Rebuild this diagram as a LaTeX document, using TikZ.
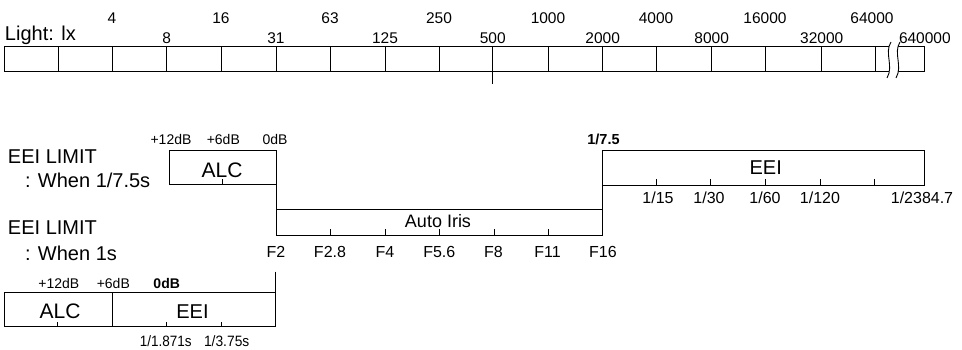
\documentclass[tikz,border=0pt]{standalone}
\usepackage{fontspec}
\usepackage{graphicx}
\setmainfont{Liberation Sans}
\newcommand\myfs[1]{\fontsize{#1}{#1}\selectfont}
\begin{document}
\begin{tikzpicture}[x=1pt,y=-1pt,line width=0.9pt,
  lbl/.style={anchor=base,inner sep=0pt,outer sep=0pt},
  lblw/.style={anchor=base west,inner sep=0pt,outer sep=0pt}]
\useasboundingbox (0,0) rectangle (962,350);
% ---------------- light ruler ----------------
\node[lblw,font=\myfs{20}] (light) at (5,40.7) {Light: lx};
\draw (4,46.5) rectangle (924,71.5);
\foreach \x in {58.7,112.7,166.7,221.7,276,330,385,439,492.7,548.3,602.7,656,711.7,765.7,821.7,875}
  \draw (\x,46.5) -- (\x,71.5);
\draw (492.7,71.5) -- (492.7,84);
\foreach \t/\x in {4/112,16/221,63/330,250/439,1000/548,4000/656,16000/765,64000/872}
  \node[lbl,font=\myfs{15.5}] at (\x,24) {\t};
\foreach \t/\x in {8/166.7,31/276,125/385,500/492.7,2000/602.7,8000/711.7,32000/821.7}
  \node[lbl,font=\myfs{15.5}] at (\x,43.3) {\t};
\node[lblw,font=\myfs{15.5}] at (899,43.3) {640000};
% break marks
\fill[white] (891,42) .. controls (884,53) and (894,66) .. (887,78) -- (896,78) .. controls (903,66) and (893,53) .. (900,42) -- cycle;
\draw (891,42) .. controls (884,53) and (894,66) .. (887,78);
\draw (900,42) .. controls (893,53) and (903,66) .. (896,78);
% ---------------- EEI limit 1/7.5s ----------------
\node[lblw,font=\myfs{20}] at (8,163.3) {EEI LIMIT};
\node[lblw,font=\myfs{20}] at (25,187.7) {: When 1/7.5s};
% ALC box
\draw (169,150.7) rectangle (276,184.3);
\draw (222.7,184.3) -- (222.7,179);
\foreach \t/\x in {+12dB/171,+6dB/223.3,0dB/275}
  \node[lbl,font=\myfs{14}] at (\x,145) {\t};
\node[lbl,font=\myfs{21}] at (222,177.3) {ALC};
% connection and auto iris
\draw (276,184.3) -- (276,209.3);
\draw (276,209.3) rectangle (602.3,235);
\draw (602.3,209.3) -- (602.3,185);
\foreach \x in {330,385,439.3,494.3,548.3}
  \draw (\x,235) -- (\x,229);
\node[lbl,font=\myfs{18}] at (438,227.3) {Auto Iris};
\foreach \t/\x in {F2/276,F2.8/330,F4/385,F5.6/439.3,F8/493.5,F11/547.5,F16/603}
  \node[lbl,font=\myfs{16}] at (\x,257.3) {\t};
% EEI box
\draw (602.3,150.7) rectangle (924.3,185);
\foreach \x in {656,710.7,765.7,820.7,874}
  \draw (\x,185) -- (\x,179.3);
\node[lbl,font=\myfs{20}] at (765.7,175) {EEI};
\node[lbl,font=\bfseries\myfs{14.5}] at (603.5,145) {1/7.5};
\foreach \t/\x in {{1/15}/658,{1/30}/709,{1/60}/765,{1/120}/820,{1/2384.7}/922}
  \node[lbl,font=\myfs{16}] at (\x,203.3) {\t};
% ---------------- EEI limit 1s ----------------
\node[lblw,font=\myfs{20}] at (8,235) {EEI LIMIT};
\node[lblw,font=\myfs{20}] at (25,260) {: When 1s};
\draw (275.5,271.7) -- (275.5,292.7);
\draw (4,292.7) rectangle (275.5,326.7);
\draw (112.7,292.7) -- (112.7,326.7);
\foreach \x in {57.7,166,221.7}
  \draw (\x,326.7) -- (\x,321.5);
\node[lbl,font=\myfs{14}] at (58.8,288.3) {+12dB};
\node[lbl,font=\myfs{14}] at (113.3,288.3) {+6dB};
\node[lbl,font=\bfseries\myfs{14}] at (166.7,288.3) {0dB};
\node[lbl,font=\myfs{21}] at (60,318.3) {ALC};
\node[lbl,font=\myfs{20}] at (192.5,318.3) {EEI};
\node[lbl,font=\myfs{15}] at (165.8,346) {\scalebox{0.9}[1]{1/1.871s}};
\node[lbl,font=\myfs{15}] at (226.7,346) {\scalebox{0.92}[1]{1/3.75s}};
\end{tikzpicture}
\end{document}
